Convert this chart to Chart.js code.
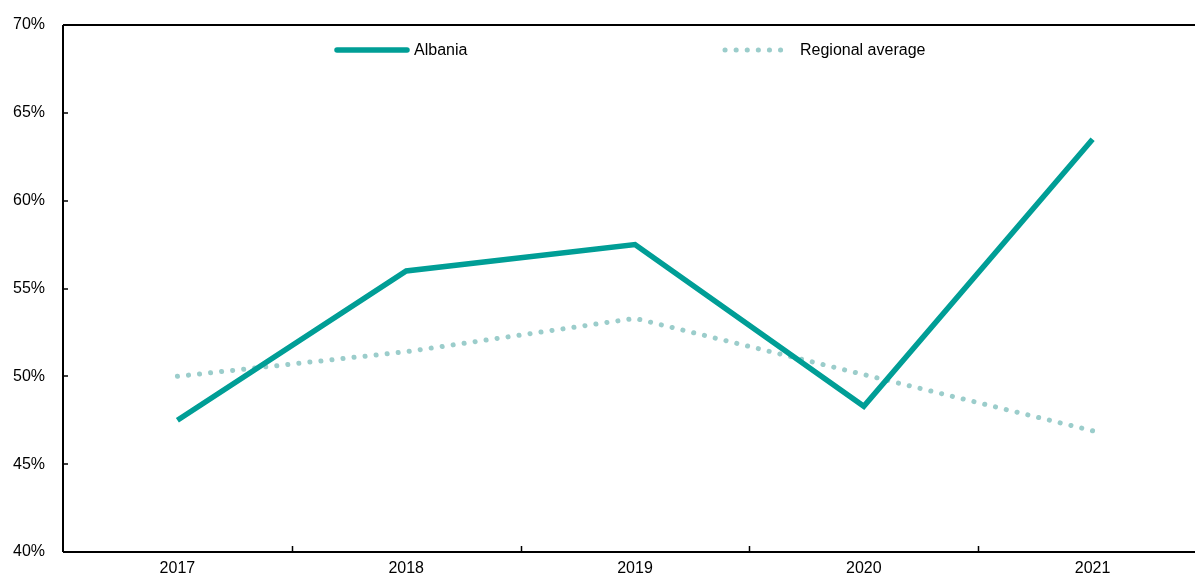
<!DOCTYPE html>
<html><head><meta charset="utf-8">
<script src="https://cdn.jsdelivr.net/npm/chart.js@4/dist/chart.umd.min.js"></script>
<style>html,body{margin:0;padding:0;background:#fff;overflow:hidden;width:1195px;height:577px}
#wrap{position:absolute;left:0;top:0;width:1210px;height:577px}</style>
</head><body><div id="wrap"><canvas id="c" width="1210" height="577"></canvas></div>
<script>
const categories = ['2017','2018','2019','2020','2021'];
const albania = [47.5, 56.0, 57.5, 48.3, 63.5];
const regional = [50.0, 51.4, 53.3, 50.1, 46.9];
const seriesNames = ['Albania','Regional average'];
const yTicks = [40,45,50,55,60,65,70];
const FONT = "'Liberation Sans', Arial, sans-serif";

const framePlugin = {
  id:'frame',
  afterDraw(chart){
    const ctx = chart.ctx, a = chart.chartArea, x = chart.scales.x, y = chart.scales.y;
    ctx.save();
    ctx.strokeStyle = '#000'; ctx.lineWidth = 2;
    ctx.beginPath();
    ctx.moveTo(a.left, a.top); ctx.lineTo(a.right+5, a.top);
    ctx.moveTo(a.left, a.top); ctx.lineTo(a.left, a.bottom);
    ctx.moveTo(a.left, a.bottom); ctx.lineTo(a.right+5, a.bottom);
    ctx.stroke();
    ctx.lineWidth = 1.5;
    ctx.beginPath();
    yTicks.forEach(v => { const py = Math.round(y.getPixelForValue(v)); ctx.moveTo(a.left, py); ctx.lineTo(a.left+5, py); });
    for (let i=1;i<categories.length;i++){ const px = Math.round((x.getPixelForValue(i-1)+x.getPixelForValue(i))/2)+0.5; ctx.moveTo(px, a.bottom); ctx.lineTo(px, a.bottom-6); }
    ctx.stroke();
    // legend
    const ds = chart.data.datasets;
    const items = [{x0:337,x1:407,tx:414},{x0:725,x1:786,tx:800}];
    const ly = 50;
    ds.forEach((d,i)=>{
      const it = items[i];
      ctx.save();
      ctx.strokeStyle = d.borderColor; ctx.lineWidth = d.borderWidth; ctx.lineCap = 'round';
      ctx.setLineDash(d.borderDash || []);
      ctx.beginPath(); ctx.moveTo(it.x0, ly); ctx.lineTo(it.x1, ly); ctx.stroke();
      ctx.restore();
      ctx.fillStyle = '#000'; ctx.font = '16px ' + FONT; ctx.textBaseline = 'middle'; ctx.textAlign='left';
      ctx.fillText(d.label, it.tx, ly+1);
    });
    ctx.restore();
  }
};

new Chart(document.getElementById('c'), {
  type:'line',
  data:{ labels:categories, datasets:[
    {label:seriesNames[0], data:albania, borderColor:'#009E96', borderWidth:5.5, pointRadius:0, tension:0, borderJoinStyle:'miter'},
    {label:seriesNames[1], data:regional, borderColor:'#9BCDCB', borderWidth:5, pointRadius:0, tension:0, borderDash:[0.1,11], borderCapStyle:'round'}
  ]},
  options:{
    responsive:false, animation:false, devicePixelRatio:1,
    layout:{padding:{top:25,right:3,left:0,bottom:0}},
    plugins:{legend:{display:false}, tooltip:{enabled:false}},
    scales:{
      x:{ offset:true, grid:{display:false, drawTicks:false}, border:{display:false},
          ticks:{color:'#000', font:{family:FONT,size:16}, padding:7},
          afterFit(s){ s.height = 25; s.paddingLeft = 0; s.paddingRight = 0; } },
      y:{ min:40, max:70, grid:{display:false, drawTicks:false}, border:{display:false},
          afterBuildTicks(s){ s.ticks = yTicks.map(v=>({value:v})); },
          ticks:{color:'#000', font:{family:FONT,size:16}, padding:18, callback:v=>v+'%'},
          afterFit(s){ s.width = 63; s.paddingTop = 0; s.paddingBottom = 0; } }
    }
  },
  plugins:[framePlugin]
});
</script></body></html>
